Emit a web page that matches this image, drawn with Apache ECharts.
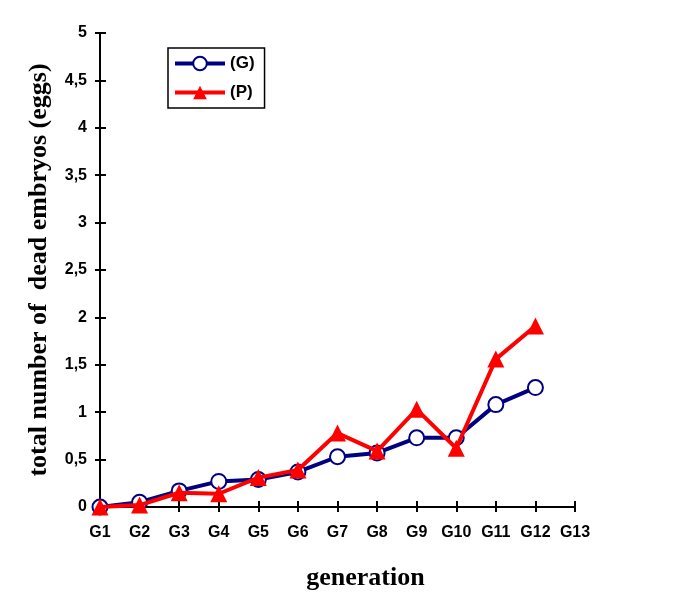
<!DOCTYPE html>
<html><head><meta charset="utf-8">
<script src="https://cdn.jsdelivr.net/npm/echarts@6/dist/echarts.min.js"></script>
<style>html,body{margin:0;padding:0;background:#fff}#c{width:685px;height:611px}</style>
</head><body><div id="c"></div>
<script>
const categories = ['G1','G2','G3','G4','G5','G6','G7','G8','G9','G10','G11','G12','G13'];
const seriesG = [0, 0.05, 0.17, 0.27, 0.29, 0.37, 0.53, 0.57, 0.73, 0.73, 1.08, 1.26];
const seriesP = [0, 0.02, 0.15, 0.14, 0.31, 0.39, 0.78, 0.59, 1.03, 0.62, 1.56, 1.91];
const yTicks = [0, 0.5, 1, 1.5, 2, 2.5, 3, 3.5, 4, 4.5, 5];

const chart = echarts.init(document.getElementById('c'));
const fmt = v => String(v).replace('.', ',');
const axisLine = {show: true, lineStyle: {color: '#000', width: 2}};
chart.setOption({
  animation: false,
  grid: {left: 100, right: 110, top: 33, bottom: 104},
  legend: {
    orient: 'vertical', left: 168, top: 48,
    padding: [7, 10, 7, 5], itemGap: 12, itemWidth: 50, itemHeight: 17,
    borderColor: '#000', borderWidth: 1.5,
    textStyle: {fontFamily: 'Liberation Sans, Arial', fontWeight: 'bold', fontSize: 17, color: '#000'},
    data: [
      {name: '(G)', lineStyle: {width: 4}},
      {name: '(P)', lineStyle: {width: 4}}
    ]
  },
  xAxis: [{
    type: 'category', data: categories, boundaryGap: false,
    name: 'generation', nameLocation: 'middle', nameGap: 58,
    nameTextStyle: {fontFamily: 'Liberation Serif, Times New Roman', fontWeight: 'bold', fontSize: 26, color: '#000', padding: [0, 0, 0, 56]},
    axisLine: axisLine,
    axisTick: {show: true, length: 5, lineStyle: {color: '#000', width: 2}, alignWithLabel: true},
    axisLabel: {margin: 18, fontFamily: 'Liberation Sans, Arial', fontWeight: 'bold', fontSize: 16, color: '#000', interval: 0},
    splitLine: {show: false}
  }, {
    type: 'category', data: categories, boundaryGap: false, position: 'bottom',
    axisLine: axisLine,
    axisTick: {show: true, inside: true, length: 6, lineStyle: {color: '#000', width: 2}, interval: 0},
    axisLabel: {show: false}, splitLine: {show: false}
  }],
  yAxis: [{
    type: 'value', min: 0, max: 5, interval: 0.5,
    name: 'total number of  dead embryos (eggs)', nameLocation: 'middle', nameGap: 48,
    nameTextStyle: {fontFamily: 'Liberation Serif, Times New Roman', fontWeight: 'bold', fontSize: 26, color: '#000'},
    axisLine: axisLine,
    axisTick: {show: true, length: 5, lineStyle: {color: '#000', width: 2}},
    axisLabel: {margin: 13, fontFamily: 'Liberation Sans, Arial', fontWeight: 'bold', fontSize: 16, color: '#000',
      formatter: v => yTicks.includes(v) ? fmt(v) : ''},
    splitLine: {show: false}
  }, {
    type: 'value', min: 0, max: 5, interval: 0.5, position: 'left',
    axisLine: axisLine,
    axisTick: {show: true, inside: true, length: 6, lineStyle: {color: '#000', width: 2}},
    axisLabel: {show: false}, splitLine: {show: false}
  }],
  series: [{
    name: '(G)', type: 'line', data: seriesG, xAxisIndex: 0, yAxisIndex: 0,
    symbol: 'circle', symbolSize: 15,
    lineStyle: {color: '#000080', width: 4},
    itemStyle: {color: '#fff', borderColor: '#000080', borderWidth: 2},
    z: 2
  }, {
    name: '(P)', type: 'line', data: seriesP, xAxisIndex: 0, yAxisIndex: 0,
    symbol: 'triangle', symbolSize: 17,
    lineStyle: {color: '#ff0000', width: 4},
    itemStyle: {color: '#ff0000'},
    z: 3
  }]
});
</script></body></html>
